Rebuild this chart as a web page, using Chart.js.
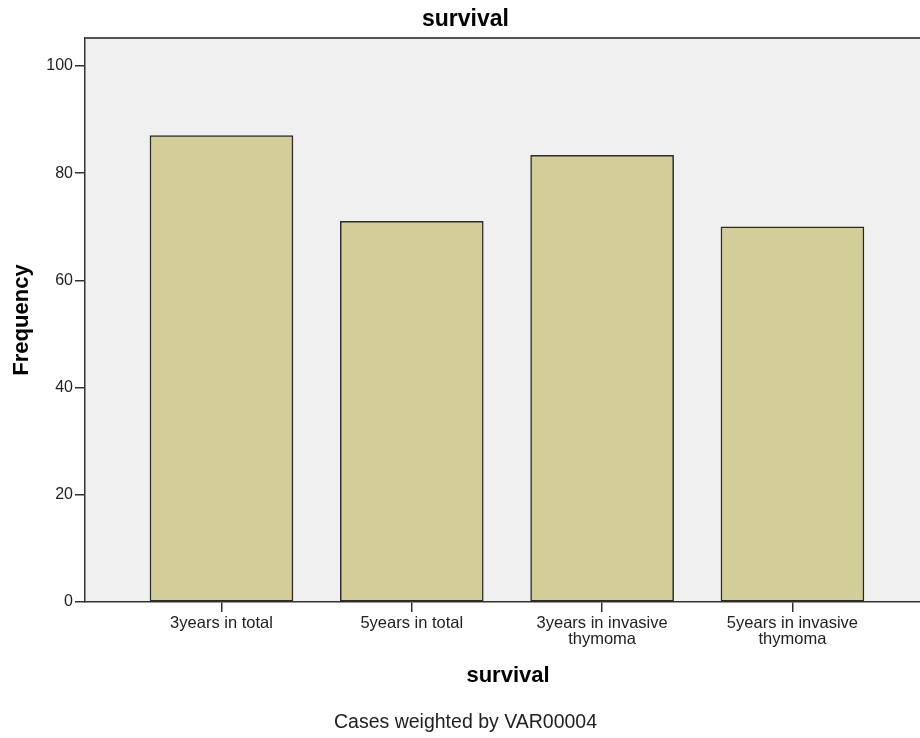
<!DOCTYPE html>
<html lang="en">
<head>
    <meta charset="UTF-8">
    <title>survival</title>
    <script src="https://cdn.jsdelivr.net/npm/chart.js"></script>
    <style>
        html, body {
            margin: 0;
            padding: 0;
            background: #fff;
            overflow: hidden;
        }
        canvas {
            display: block;
        }
    </style>
</head>
<body>
<canvas id="survivalChart" width="931" height="738"></canvas>
<script>
    // categories and frequencies
    const categories = [
        '3years in total',
        '5years in total',
        ['3years in invasive', 'thymoma'],
        ['5years in invasive', 'thymoma']
    ];
    const frequency = [87, 71, 83.3, 70];
    const yTicks = [0, 20, 40, 60, 80, 100];

    const fontFamily = '"Liberation Sans", Arial, sans-serif';

    // grey plot background + top frame line
    const plotFrame = {
        id: 'plotFrame',
        beforeDraw(chart) {
            const {ctx, chartArea} = chart;
            ctx.save();
            ctx.fillStyle = '#f0f0f0';
            ctx.fillRect(chartArea.left, chartArea.top, chartArea.right - chartArea.left, chartArea.bottom - chartArea.top);
            ctx.restore();
        },
        afterDraw(chart) {
            const {ctx, chartArea} = chart;
            ctx.save();
            ctx.strokeStyle = '#555';
            ctx.lineWidth = 2;
            ctx.beginPath();
            ctx.moveTo(chartArea.left, chartArea.top);
            ctx.lineTo(chartArea.right, chartArea.top);
            ctx.stroke();
            ctx.restore();
        }
    };

    const ctx = document.getElementById('survivalChart').getContext('2d');
    new Chart(ctx, {
        type: 'bar',
        data: {
            datasets: [{
                label: 'Frequency',
                data: frequency.map((v, i) => ({x: i, y: v})),
                backgroundColor: '#d3ce98',
                borderColor: '#2b2b2b',
                borderWidth: 1.5,
                borderSkipped: false,
                barThickness: 143
            }]
        },
        options: {
            responsive: false,
            animation: false,
            layout: {padding: 0},
            plugins: {
                legend: {display: false},
                tooltip: {enabled: false},
                title: {
                    display: true,
                    text: 'survival',
                    color: '#000',
                    font: {family: fontFamily, size: 23, weight: 'bold'},
                    padding: {top: 5.8, bottom: 4.6}
                },
                subtitle: {
                    display: true,
                    position: 'bottom',
                    text: 'Cases weighted by VAR00004',
                    color: '#222',
                    font: {family: fontFamily, size: 19.5, weight: 'normal'},
                    padding: {top: 0, bottom: 3.6}
                }
            },
            scales: {
                x: {
                    type: 'linear',
                    min: -0.717,
                    max: 3.728,
                    offset: false,
                    afterFit(scale) { scale.height = 109; },
                    border: {display: true, color: '#333', width: 1.5},
                    grid: {
                        offset: false,
                        drawOnChartArea: false,
                        drawTicks: true,
                        tickLength: 10,
                        color: '#333',
                        lineWidth: 1.5
                    },
                    ticks: {
                        stepSize: 1,
                        includeBounds: false,
                        autoSkip: false,
                        maxRotation: 0,
                        padding: 3,
                        color: '#222',
                        font: {family: fontFamily, size: 16.5, lineHeight: 1.0},
                        callback: (v) => categories[v]
                    },
                    title: {
                        display: true,
                        text: 'survival',
                        color: '#000',
                        font: {family: fontFamily, size: 22, weight: 'bold'},
                        padding: {top: 0, bottom: 21.8}
                    }
                },
                y: {
                    min: 0,
                    max: 105.2,
                    afterFit(scale) { scale.width = 85; },
                    afterBuildTicks(scale) { scale.ticks = yTicks.map(v => ({value: v})); },
                    border: {display: true, color: '#333', width: 1.5},
                    grid: {
                        drawOnChartArea: false,
                        drawTicks: true,
                        tickLength: 10,
                        color: '#333',
                        lineWidth: 1.5
                    },
                    ticks: {
                        padding: 2,
                        color: '#222',
                        font: {family: fontFamily, size: 16}
                    },
                    title: {
                        display: true,
                        text: 'Frequency',
                        color: '#000',
                        font: {family: fontFamily, size: 22, weight: 'bold'},
                        padding: {top: 8.8, bottom: 0}
                    }
                }
            }
        },
        plugins: [plotFrame]
    });
</script>
</body>
</html>
